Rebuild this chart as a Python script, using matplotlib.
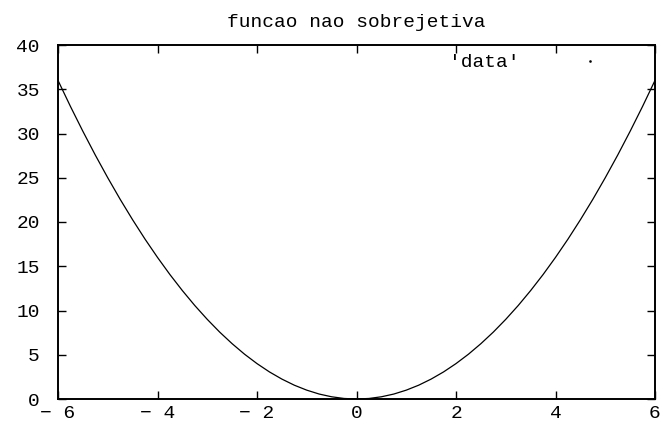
import matplotlib
matplotlib.use("Agg")
import matplotlib.pyplot as plt
from matplotlib.lines import Line2D

# values
xs = [-6.0, -5.75, -5.5, -5.25, -5.0, -4.75, -4.5, -4.25, -4.0, -3.75, -3.5, -3.25,
      -3.0, -2.75, -2.5, -2.25, -2.0, -1.75, -1.5, -1.25, -1.0, -0.75, -0.5, -0.25,
      0.0, 0.25, 0.5, 0.75, 1.0, 1.25, 1.5, 1.75, 2.0, 2.25, 2.5, 2.75,
      3.0, 3.25, 3.5, 3.75, 4.0, 4.25, 4.5, 4.75, 5.0, 5.25, 5.5, 5.75, 6.0]
ys = [36.0, 33.06, 30.25, 27.56, 25.0, 22.56, 20.25, 18.06, 16.0, 14.06, 12.25, 10.56,
      9.0, 7.56, 6.25, 5.06, 4.0, 3.06, 2.25, 1.56, 1.0, 0.56, 0.25, 0.06,
      0.0, 0.06, 0.25, 0.56, 1.0, 1.56, 2.25, 3.06, 4.0, 5.06, 6.25, 7.56,
      9.0, 10.56, 12.25, 14.06, 16.0, 18.06, 20.25, 22.56, 25.0, 27.56, 30.25, 33.06, 36.0]
xticks = [-6, -4, -2, 0, 2, 4, 6]
yticks = [0, 5, 10, 15, 20, 25, 30, 35, 40]
title = "funcao nao sobrejetiva"
series_label = "'data'"

plt.rcParams['font.family'] = ['Liberation Mono', 'DejaVu Sans Mono']
plt.rcParams['axes.unicode_minus'] = True

fig = plt.figure(figsize=(6.63, 4.24), dpi=100)
ax = fig.add_axes([58/663, 25/424, 597/663, 354/424])

ax.plot(xs, ys, color='black', lw=0.9)
ax.set_xlim(-6, 6)
ax.set_ylim(0, 40)
ax.set_xticks(xticks)
ax.set_yticks(yticks)
ax.set_xticklabels([("\u2212 " + str(-t)) if t < 0 else str(t) for t in xticks])
ax.tick_params(direction='in', length=6, width=1, top=True, right=True,
               labelsize=14, colors='black')
ax.tick_params(axis='y', pad=13)
ax.tick_params(axis='x', pad=4)
for s in ax.spines.values():
    s.set_linewidth(1.4)

ax.set_title(title, fontsize=14, pad=13)

dot = Line2D([], [], ls='none', marker='s', ms=0.8, color='black')
ax.legend(handles=[dot], labels=[series_label], markerfirst=False, frameon=False,
          loc='upper right', bbox_to_anchor=(0.923, 0.975), borderpad=0,
          borderaxespad=0, handlelength=2, handletextpad=2.6, fontsize=14)

fig.savefig("out.png", dpi=100)
